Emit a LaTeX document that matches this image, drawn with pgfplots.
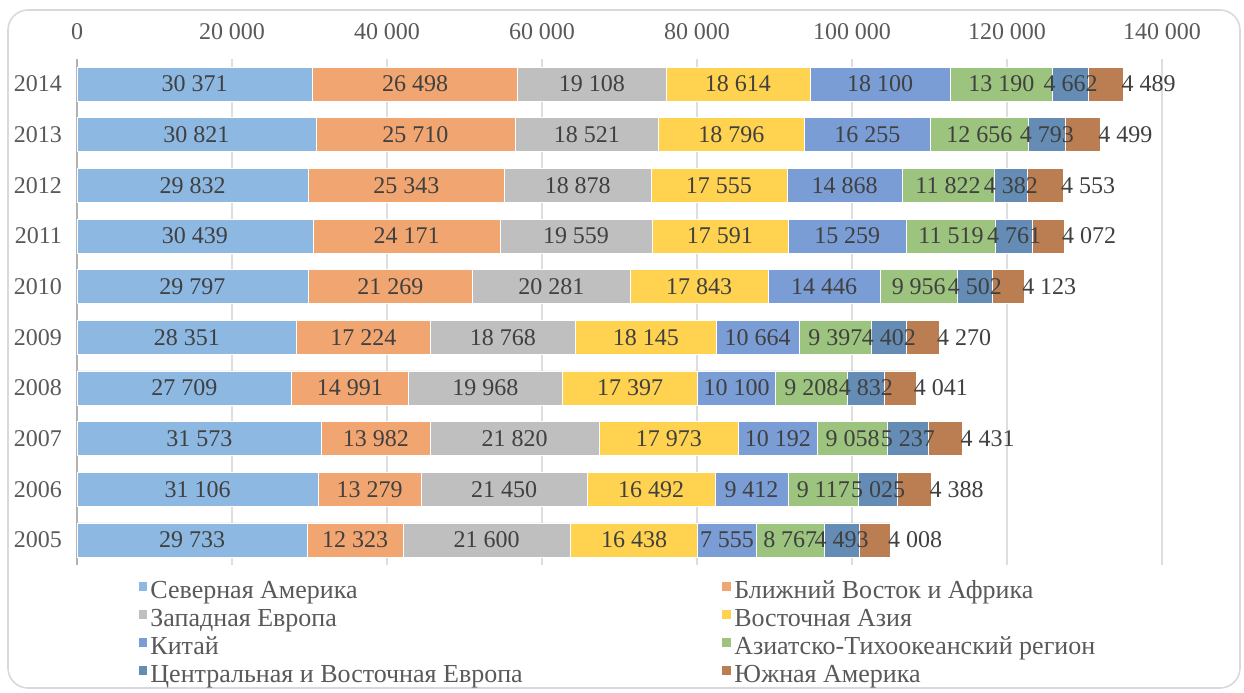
\documentclass[border=0pt]{standalone}
\usepackage{pgfplots}
\pgfplotsset{compat=1.18}
\usepackage{pgfplotstable}
\usepackage{fontspec}
\setmainfont{Liberation Serif}
\definecolor{cNA}{HTML}{8DB8E2}
\definecolor{cME}{HTML}{F1A672}
\definecolor{cWE}{HTML}{BFBFBF}
\definecolor{cEA}{HTML}{FFD34F}
\definecolor{cCN}{HTML}{7B9DD6}
\definecolor{cAP}{HTML}{9CC47E}
\definecolor{cCE}{HTML}{648CB4}
\definecolor{cSA}{HTML}{BA7E52}
\definecolor{lbl}{HTML}{404040}
\definecolor{txt}{HTML}{595959}

\pgfplotstableread{
year NA ME WE EA CN AP CE SA
2005 29733 12323 21600 16438 7555 8767 4493 4008
2006 31106 13279 21450 16492 9412 9117 5025 4388
2007 31573 13982 21820 17973 10192 9058 5237 4431
2008 27709 14991 19968 17397 10100 9208 4832 4041
2009 28351 17224 18768 18145 10664 9397 4402 4270
2010 29797 21269 20281 17843 14446 9956 4502 4123
2011 30439 24171 19559 17591 15259 11519 4761 4072
2012 29832 25343 18878 17555 14868 11822 4382 4553
2013 30821 25710 18521 18796 16255 12656 4793 4499
2014 30371 26498 19108 18614 18100 13190 4662 4489
}\data

\pgfplotsset{
  base/.style={
    at={(38.5pt,63.35pt)}, anchor=south west,
    scale only axis, width=542.5pt, height=253.3pt,
    xmin=0, xmax=140000, ymin=2004.5, ymax=2014.5,
    font=\fontsize{12}{14}\selectfont,
  },
  lab/.style={
    only marks, mark=*, mark size=0pt, mark options={draw=none, fill=none},
    nodes near coords={\pgfmathprintnumber[fixed,1000 sep={\ },assume math mode=true]{\pgfplotspointmeta}},
    every node near coord/.append style={anchor=center, text=lbl, font=\fontsize{12}{14}\selectfont},
  },
  labend/.style={
    only marks, mark=*, mark size=0pt, mark options={draw=none, fill=none},
    nodes near coords={\pgfmathprintnumber[fixed,1000 sep={\ },assume math mode=true]{\pgfplotspointmeta}},
    every node near coord/.append style={anchor=west, text=lbl, font=\fontsize{12}{14}\selectfont, xshift=-4.5pt},
  },
  seg/.style={fill=#1, draw=white, line width=0.3pt},
}

\begin{document}
\begin{tikzpicture}[x=1pt,y=1pt]
\path[use as bounding box] (0,0) rectangle (622,346);
\draw[rounded corners=10pt, draw=black!15, line width=0.8pt] (4,2) rectangle (620,341);

\begin{axis}[base, xbar stacked, bar width=17pt,
  axis line style={draw=none}, tick style={draw=none},
  xmajorgrids, grid style={draw=black!13, line width=0.7pt},
  extra x ticks={0}, extra x tick style={grid style={draw=black!30, line width=0.7pt}, xticklabels={}},
  xtick={0,20000,...,140000}, xticklabel pos=upper, scaled x ticks=false,
  x tick label style={/pgf/number format/fixed, /pgf/number format/1000 sep={\ }, /pgf/number format/assume math mode=true, text=txt, yshift=6pt},
  ytick={2005,...,2014},
  y tick label style={/pgf/number format/1000 sep={}, /pgf/number format/assume math mode=true, text=txt, xshift=-4pt},
  legend columns=2,
  legend cell align=left,
  legend style={draw=none, fill=none, at={(0.05,-0.018)}, anchor=north west,
     font=\fontsize{13}{15}\selectfont, text=txt,
     nodes={inner xsep=1.5pt, inner ysep=0pt, text height=10pt, text depth=4pt},
     row sep=0pt, column sep=0pt},
  legend image code/.code={\fill[#1] (0pt,1pt) rectangle (4.6pt,5.6pt);},
]
\addplot[seg=cNA] table[x=NA,y=year] {\data};
\addplot[seg=cME] table[x=ME,y=year] {\data};
\addplot[seg=cWE] table[x=WE,y=year] {\data};
\addplot[seg=cEA] table[x=EA,y=year] {\data};
\addplot[seg=cCN] table[x=CN,y=year] {\data};
\addplot[seg=cAP] table[x=AP,y=year] {\data};
\addplot[seg=cCE] table[x=CE,y=year] {\data};
\addplot[seg=cSA] table[x=SA,y=year] {\data};
\addlegendentry{\makebox[284pt][l]{Северная Америка}}
\addlegendentry{Ближний Восток и Африка}
\addlegendentry{\makebox[284pt][l]{Западная Европа}}
\addlegendentry{Восточная Азия}
\addlegendentry{\makebox[284pt][l]{Китай}}
\addlegendentry{Азиатско-Тихоокеанский регион}
\addlegendentry{\makebox[284pt][l]{Центральная и Восточная Европа}}
\addlegendentry{Южная Америка}
\end{axis}

\begin{axis}[base, hide axis, clip=false]
\addplot[lab, point meta=\thisrow{NA}] table[x expr={\thisrow{NA}/2}, y=year] {\data};
\addplot[lab, point meta=\thisrow{ME}] table[x expr={\thisrow{NA}+\thisrow{ME}/2}, y=year] {\data};
\addplot[lab, point meta=\thisrow{WE}] table[x expr={\thisrow{NA}+\thisrow{ME}+\thisrow{WE}/2}, y=year] {\data};
\addplot[lab, point meta=\thisrow{EA}] table[x expr={\thisrow{NA}+\thisrow{ME}+\thisrow{WE}+\thisrow{EA}/2}, y=year] {\data};
\addplot[lab, point meta=\thisrow{CN}] table[x expr={\thisrow{NA}+\thisrow{ME}+\thisrow{WE}+\thisrow{EA}+\thisrow{CN}/2}, y=year] {\data};
\addplot[lab, point meta=\thisrow{AP}] table[x expr={\thisrow{NA}+\thisrow{ME}+\thisrow{WE}+\thisrow{EA}+\thisrow{CN}+\thisrow{AP}/2}, y=year] {\data};
\addplot[lab, point meta=\thisrow{CE}] table[x expr={\thisrow{NA}+\thisrow{ME}+\thisrow{WE}+\thisrow{EA}+\thisrow{CN}+\thisrow{AP}+\thisrow{CE}/2}, y=year] {\data};
\addplot[labend, point meta=\thisrow{SA}] table[x expr={\thisrow{NA}+\thisrow{ME}+\thisrow{WE}+\thisrow{EA}+\thisrow{CN}+\thisrow{AP}+\thisrow{CE}+\thisrow{SA}}, y=year] {\data};
\end{axis}
\end{tikzpicture}
\end{document}
